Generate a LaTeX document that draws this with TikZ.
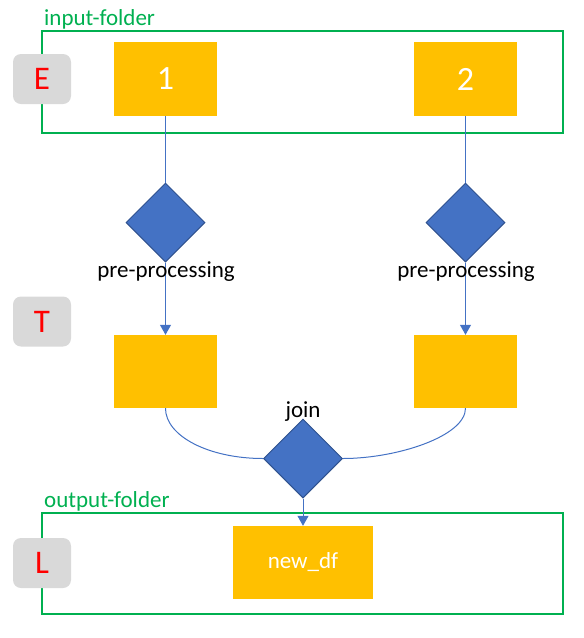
\documentclass[tikz,border=0pt]{standalone}
\usepackage{fontspec}
\setmainfont{Carlito}
\usetikzlibrary{shapes.geometric,arrows.meta}

\definecolor{gold}{HTML}{FFC000}
\definecolor{flowblue}{HTML}{4472C4}
\definecolor{darkblue}{HTML}{2F528F}
\definecolor{foldergreen}{HTML}{00B050}
\definecolor{stagegray}{HTML}{D9D9D9}

\tikzset{
    folder/.style={draw=foldergreen, line width=2pt},
    foldername/.style={anchor=base west, inner sep=0, text=foldergreen, font=\fontsize{23}{27}\selectfont},
    stage/.style={fill=stagegray, rounded corners=8pt, minimum width=58pt, minimum height=50pt, inner sep=0, text=red, font=\fontsize{33}{38}\selectfont},
    block/.style={fill=gold, minimum width=103pt, minimum height=74pt, inner sep=0, text=white, font=\fontsize{34}{40}\selectfont},
    decision/.style={diamond, fill=flowblue, draw=darkblue, line width=1pt, minimum width=79pt, minimum height=79pt, inner sep=0},
    caption/.style={anchor=base, inner sep=0, font=\fontsize{23}{27}\selectfont},
    link/.style={draw=flowblue, line width=1pt},
    arrow/.style={link, -{Triangle[width=11pt,length=10pt]}}
}

\begin{document}
\begin{tikzpicture}[x=1pt, y=-1pt]
        \useasboundingbox (0,0) rectangle (584,638);
        % folders
        \draw [folder] (41.5,30.5) rectangle (563,132.5);
        \draw [folder] (41.5,512.5) rectangle (563,613.5);
        \node [foldername] (inlabel) at (44,25) {input-folder};
        \node [foldername] (outlabel) at (44,507) {output-folder};
        % stages
        \node [stage] (E) at (42,79) {E};
        \node [stage] (T) at (42,321.5) {T};
        \node [stage] (L) at (42,563) {L};
        % data
        \node [block] (in1) at (165.5,79) {1};
        \node [block] (in2) at (465.5,79) {2};
        \node [block, minimum height=73pt] (mid1) at (165.5,371.5) {};
        \node [block, minimum height=73pt] (mid2) at (465.5,371.5) {};
        \node [block, minimum width=140pt, minimum height=73pt, font=\fontsize{23}{27}\selectfont] (newdf) at (303,562.5) {new\_df};
        % steps
        \node [decision] (pre1) at (165.5,222.5) {};
        \node [decision] (pre2) at (465.5,222.5) {};
        \node [decision] (join) at (303,458.5) {};
        % links
        \draw [link] (in1.south) -- (pre1.north);
        \draw [link] (in2.south) -- (pre2.north);
        \draw [arrow] (pre1.south) -- (mid1.north);
        \draw [arrow] (pre2.south) -- (mid2.north);
        \draw [link] (mid1.south) .. controls +(0,28) and +(-54,0) .. (join.west);
        \draw [link] (mid2.south) .. controls +(0,28) and +(54,0) .. (join.east);
        \draw [arrow] (join.south) -- (newdf.north);
        % captions
        \node [caption] (pp1) at (166,277) {pre-processing};
        \node [caption] (pp2) at (466,277) {pre-processing};
        \node [caption] (joinlabel) at (303,417) {join};
    \end{tikzpicture}
\end{document}
